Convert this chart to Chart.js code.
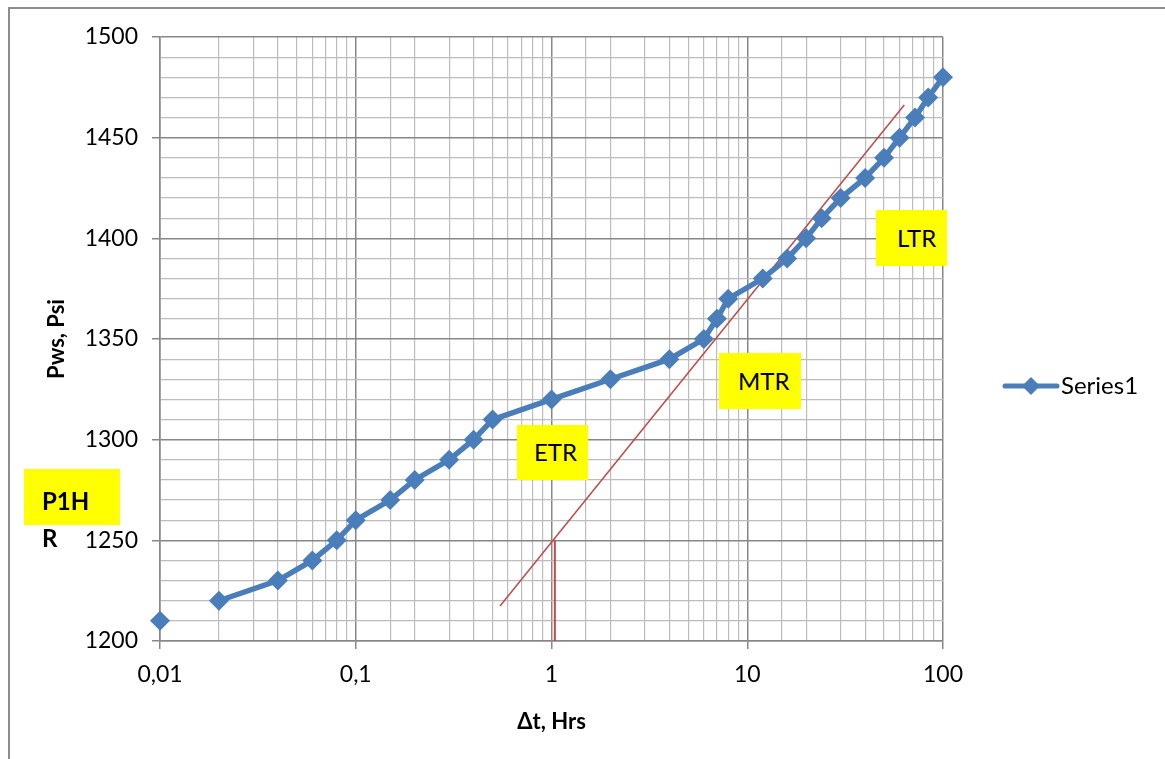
<!DOCTYPE html>
<html>
<head>
<meta charset="utf-8">
<script src="https://cdn.jsdelivr.net/npm/chart.js@4/dist/chart.umd.min.js"></script>
<style>
  body { margin: 0; background: #fff; font-family: Lato, sans-serif; }
  #wrap { position: relative; width: 1165px; height: 759px; overflow: hidden; }
  #frame { position: absolute; left: 8px; top: 7px; width: 1200px; height: 800px;
           border-top: 2px solid #8c8c8c; border-left: 2px solid #8c8c8c; }
  .tag { position: absolute; background: #ffff00; color: #000; font-size: 24px; }
  .tag span { position: absolute; left: 0; right: 0; }
</style>
</head>
<body>
<div id="wrap">
  <div id="frame"></div>
  <canvas id="pws_chart" width="1165" height="759" style="position:absolute;left:0;top:0"></canvas>
  <div class="tag" style="left:517px;top:425px;width:71px;height:55px"><span style="left:17px;top:12px">ETR</span></div>
  <div class="tag" style="left:719px;top:353px;width:82px;height:56px"><span style="left:19px;top:13px">MTR</span></div>
  <div class="tag" style="left:876px;top:210px;width:71px;height:56px"><span style="left:21px;top:13px">LTR</span></div>
  <div class="tag" style="left:24px;top:469px;width:96px;height:56px;font-weight:bold"><span style="left:18px;top:13px;line-height:37px">P1H<br>R</span></div>
</div>
<script>
// buildup data
const dt_hrs = [0.01, 0.02, 0.04, 0.06, 0.08, 0.1, 0.15, 0.2, 0.3, 0.4, 0.5, 1, 2, 4, 6, 7, 8, 12, 16, 20, 24, 30, 40, 50, 60, 72, 84, 100];
const pws_psi = [1210, 1220, 1230, 1240, 1250, 1260, 1270, 1280, 1290, 1300, 1310, 1320, 1330, 1340, 1350, 1360, 1370, 1380, 1390, 1400, 1410, 1420, 1430, 1440, 1450, 1460, 1470, 1480];
// straight line drawn on the semilog plot
const mtr_x = [0.546, 63.4];
const mtr_y = [1217.4, 1466.2];
const drop_x = [1.04, 1.04];
const drop_y = [1250, 1200];
const x_labels = {0.01: '0,01', 0.1: '0,1', 1: '1', 10: '10', 100: '100'};

const blue = '#4a7ebb';
const red = '#be4b48';
const major = '#878787';
const minor = '#bdbdbd';

function isDecade(v) {
  const l = Math.log10(v);
  return Math.abs(l - Math.round(l)) < 1e-6;
}

const legendPlugin = {
  id: 'legend_series1',
  afterDraw(chart) {
    const ctx = chart.ctx;
    ctx.save();
    ctx.strokeStyle = blue;
    ctx.lineWidth = 5;
    ctx.lineCap = 'round';
    ctx.beginPath();
    ctx.moveTo(1005, 386);
    ctx.lineTo(1057, 386);
    ctx.stroke();
    ctx.fillStyle = blue;
    ctx.beginPath();
    ctx.moveTo(1031, 377); ctx.lineTo(1040, 386); ctx.lineTo(1031, 395); ctx.lineTo(1022, 386);
    ctx.closePath();
    ctx.fill();
    ctx.fillStyle = '#000';
    ctx.font = '24px Lato';
    ctx.textBaseline = 'middle';
    ctx.fillText('Series1', 1061, 386);
    ctx.restore();
  }
};

function build_chart() {
  const cv = document.getElementById('pws_chart');
  new Chart(cv, {
    type: 'line',
    data: {
      datasets: [
        {
          label: 'Series1',
          data: dt_hrs.map((x, i) => ({x: x, y: pws_psi[i]})),
          borderColor: blue,
          backgroundColor: blue,
          borderWidth: 5.5,
          pointStyle: 'rectRot',
          pointRadius: 10,
          pointBorderWidth: 0,
          tension: 0,
          // the first point stands alone in the original sheet
          segment: { borderColor: c => c.p0DataIndex === 0 ? 'rgba(0,0,0,0)' : blue },
          order: 1
        },
        {
          label: 'line',
          data: mtr_x.map((x, i) => ({x: x, y: mtr_y[i]})),
          borderColor: red,
          borderWidth: 1.5,
          pointRadius: 0,
          order: 2
        },
        {
          label: 'drop',
          data: drop_x.map((x, i) => ({x: x, y: drop_y[i]})),
          borderColor: red,
          borderWidth: 2,
          pointRadius: 0,
          order: 2
        }
      ]
    },
    options: {
      responsive: false,
      animation: false,
      clip: false,
      layout: { padding: { left: 0, top: 37, right: 222, bottom: 0 } },
      plugins: { legend: { display: false }, tooltip: { enabled: false } },
      scales: {
        x: {
          type: 'logarithmic',
          min: 0.01,
          max: 100,
          afterFit: s => { s.height = 118; },
          border: { color: major, width: 1.5 },
          grid: {
            color: c => isDecade(c.tick.value) ? major : minor,
            lineWidth: c => isDecade(c.tick.value) ? 1.5 : 1.2,
            tickColor: c => isDecade(c.tick.value) ? major : 'rgba(0,0,0,0)',
            tickLength: 8
          },
          ticks: {
            autoSkip: false,
            maxRotation: 0,
            color: '#000',
            font: { family: 'Lato', size: 23 },
            padding: 12,
            callback: v => x_labels[v] !== undefined ? x_labels[v] : ''
          },
          title: {
            display: true,
            text: 'Δt, Hrs',
            color: '#000',
            font: { family: 'Lato', size: 22, weight: 'bold' },
            padding: { top: 6, bottom: 24 }
          }
        },
        y: {
          min: 1200,
          max: 1500,
          afterFit: s => { s.width = 160; },
          border: { color: major, width: 1.5 },
          grid: {
            color: c => c.tick.value % 50 === 0 ? major : minor,
            lineWidth: c => c.tick.value % 50 === 0 ? 1.5 : 1.2,
            tickColor: c => c.tick.value % 50 === 0 ? major : 'rgba(0,0,0,0)',
            tickLength: 8
          },
          ticks: {
            stepSize: 10,
            autoSkip: false,
            color: '#000',
            font: { family: 'Lato', size: 23 },
            padding: 14,
            callback: v => v % 50 === 0 ? String(v) : ''
          },
          title: {
            display: true,
            text: 'Pws, Psi',
            color: '#000',
            font: { family: 'Lato', size: 22, weight: 'bold' },
            padding: { top: 44, bottom: 0 }
          }
        }
      }
    },
    plugins: [legendPlugin]
  });
}
build_chart();
</script>
</body>
</html>
